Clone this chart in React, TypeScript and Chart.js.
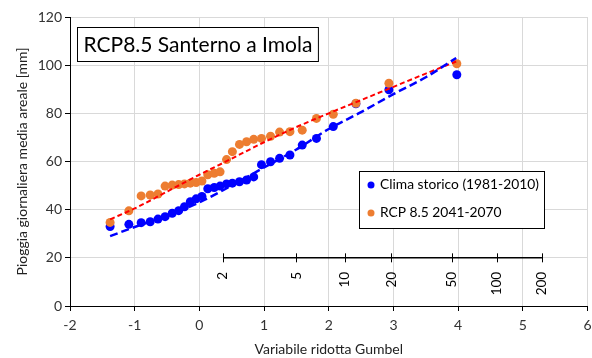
import React, { useEffect, useRef } from 'react';
import { Chart, registerables } from 'chart.js';

Chart.register(...registerables);

// Gumbel reduced variate (plotting positions)
const gumbelX = [-1.38, -1.09, -0.9, -0.76, -0.64, -0.53, -0.42, -0.32, -0.23, -0.14, -0.05, 0.04, 0.13, 0.23, 0.32, 0.42, 0.51, 0.62, 0.73, 0.84, 0.96, 1.1, 1.24, 1.4, 1.59, 1.81, 2.07, 2.42, 2.93, 3.98];
const climaStorico = [33.0, 33.9, 34.6, 35.0, 36.1, 37.1, 38.5, 39.6, 41.2, 43.3, 44.5, 45.5, 48.7, 49.2, 49.8, 50.7, 51.0, 51.6, 52.3, 53.6, 58.7, 59.9, 61.3, 62.7, 66.8, 69.6, 74.5, 84.0, 89.8, 96.0];
const rcp85 = [34.7, 39.5, 45.7, 46.1, 46.5, 49.8, 50.2, 50.4, 50.7, 51.0, 51.3, 51.9, 54.5, 55.1, 55.7, 60.8, 64.1, 67.1, 68.2, 69.2, 69.6, 70.5, 72.2, 72.4, 73.0, 77.9, 79.6, 84.2, 92.5, 100.6];

// fitted curves (dashed)
const trendX = [-1.38, -1, -0.5, 0, 0.5, 1, 1.5, 2, 2.5, 3, 3.5, 3.97];
const trendStorico = [29.0, 32.8, 37.5, 43.0, 50.0, 57.5, 65.0, 73.5, 80.5, 88.0, 95.0, 103.0];
const trendRcp = [36.0, 40.5, 47.5, 54.5, 61.2, 68.0, 74.3, 80.0, 85.5, 91.0, 96.5, 101.5];

// return-period auxiliary axis
const returnPeriodLabels = ['2', '5', '10', '20', '50', '100', '200'];
const returnPeriodPos = [0.367, 1.5, 2.25, 2.97, 3.902, 4.6, 5.296];
const returnAxisLevel = 20;

const seriesLabels = ['Clima storico (1981-2010)', 'RCP 8.5 2041-2070'];
const chartTitle = 'RCP8.5 Santerno a Imola';
const xTitle = 'Variabile ridotta Gumbel';
const yTitle = 'Pioggia giornaliera media areale [mm]';

const FONT = 'Lato, "Open Sans", sans-serif';
const BLUE = '#0000FF';
const ORANGE = '#ED7D31';
const RED = '#FF0000';

const overlayPlugin = {
  id: 'overlay',
  afterDatasetsDraw(chart: any) {
    const { ctx, scales } = chart;
    const x = scales.x;
    const y = scales.y;
    ctx.save();

    // return period axis
    const yy = y.getPixelForValue(returnAxisLevel);
    const xs = returnPeriodPos.map((v) => x.getPixelForValue(v));
    ctx.strokeStyle = '#000';
    ctx.lineWidth = 1.5;
    ctx.beginPath();
    ctx.moveTo(xs[0], yy);
    ctx.lineTo(xs[xs.length - 1], yy);
    ctx.stroke();
    ctx.lineWidth = 1;
    ctx.fillStyle = '#000';
    ctx.font = `13.5px ${FONT}`;
    xs.forEach((px, i) => {
      const p = Math.round(px) + 0.5;
      ctx.beginPath();
      ctx.moveTo(p, yy - 4.5);
      ctx.lineTo(p, yy + 4.5);
      ctx.stroke();
      ctx.save();
      ctx.translate(px, yy + 14);
      ctx.rotate(-Math.PI / 2);
      ctx.textAlign = 'right';
      ctx.textBaseline = 'middle';
      ctx.fillText(returnPeriodLabels[i], 0, 0);
      ctx.restore();
    });

    // title box
    ctx.font = `21px ${FONT}`;
    const tw = ctx.measureText(chartTitle).width;
    ctx.fillStyle = '#fff';
    ctx.fillRect(77.5, 27.5, tw + 12, 34);
    ctx.strokeStyle = '#000';
    ctx.lineWidth = 1;
    ctx.strokeRect(77.5, 27.5, tw + 12, 34);
    ctx.fillStyle = '#000';
    ctx.textAlign = 'left';
    ctx.textBaseline = 'middle';
    ctx.fillText(chartTitle, 83.5, 45);

    // legend box
    ctx.fillStyle = '#fff';
    ctx.fillRect(359.5, 171.5, 185, 57);
    ctx.strokeRect(359.5, 171.5, 185, 57);
    const colors = [BLUE, ORANGE];
    const rows = [185, 213];
    ctx.font = `13.8px ${FONT}`;
    seriesLabels.forEach((lab, i) => {
      ctx.fillStyle = colors[i];
      ctx.beginPath();
      ctx.arc(371, rows[i], 3.5, 0, Math.PI * 2);
      ctx.fill();
      ctx.fillStyle = '#000';
      ctx.fillText(lab, 380, rows[i]);
    });

    ctx.restore();
  },
};

export default function App() {
  const ref = useRef<HTMLCanvasElement | null>(null);

  useEffect(() => {
    if (!ref.current) return;
    const toPts = (xs: number[], ys: number[]) => xs.map((v, i) => ({ x: v, y: ys[i] }));
    const chart = new Chart(ref.current, {
      type: 'scatter',
      data: {
        datasets: [
          {
            label: 'trend storico',
            data: toPts(trendX, trendStorico),
            showLine: true,
            borderColor: BLUE,
            borderWidth: 2.5,
            borderDash: [8, 4],
            pointRadius: 0,
            cubicInterpolationMode: 'monotone',
            order: 0,
          } as any,
          {
            label: 'trend rcp',
            data: toPts(trendX, trendRcp),
            showLine: true,
            borderColor: RED,
            borderWidth: 2,
            borderDash: [5, 3],
            pointRadius: 0,
            cubicInterpolationMode: 'monotone',
            order: 0,
          } as any,
          {
            label: seriesLabels[1],
            data: toPts(gumbelX, rcp85),
            backgroundColor: ORANGE,
            borderColor: ORANGE,
            pointRadius: 4.5,
            pointBorderWidth: 0,
            order: 1,
          },
          {
            label: seriesLabels[0],
            data: toPts(gumbelX, climaStorico),
            backgroundColor: BLUE,
            borderColor: BLUE,
            pointRadius: 4.5,
            pointBorderWidth: 0,
            order: 2,
          },
        ],
      },
      options: {
        responsive: false,
        animation: false,
        events: [],
        layout: { padding: { top: 17, right: 4, left: 0, bottom: 0 } },
        plugins: {
          legend: { display: false },
          tooltip: { enabled: false },
          title: { display: false },
        },
        scales: {
          x: {
            type: 'linear',
            min: -2,
            max: 6,
            ticks: { stepSize: 1, color: '#333', font: { family: FONT, size: 14 }, padding: 6 },
            grid: { color: '#d9d9d9', tickColor: '#000', tickLength: 5 },
            border: { color: '#000', width: 1 },
            title: {
              display: true,
              text: xTitle,
              color: '#222',
              font: { family: FONT, size: 14 },
              padding: { top: 0, bottom: 0 },
            },
            afterFit: (s: any) => {
              s.height = 52;
              s.paddingRight = 0;
              s.paddingLeft = 0;
            },
          },
          y: {
            type: 'linear',
            min: 0,
            max: 120,
            ticks: { stepSize: 20, color: '#333', font: { family: FONT, size: 14 }, padding: 3 },
            grid: { color: '#d9d9d9', tickColor: '#000', tickLength: 5 },
            border: { color: '#000', width: 1 },
            title: {
              display: true,
              text: yTitle,
              color: '#222',
              font: { family: FONT, size: 14 },
              padding: { top: 14, bottom: 0 },
            },
            afterFit: (s: any) => {
              s.width = 70;
              s.paddingTop = 0;
              s.paddingBottom = 0;
            },
          },
        },
      },
      plugins: [overlayPlugin],
    });
    return () => chart.destroy();
  }, []);

  return (
    <div style={{ position: 'absolute', left: 0, top: 0, width: 592, height: 358, background: '#fff' }}>
      <canvas ref={ref} width={592} height={358} style={{ display: 'block' }} />
    </div>
  );
}
